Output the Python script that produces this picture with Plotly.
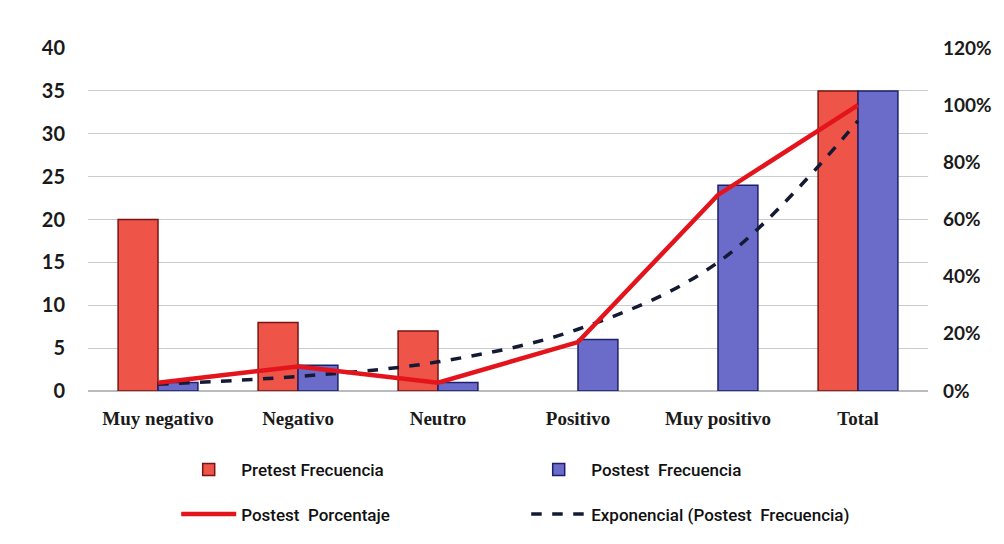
import plotly.graph_objects as go

# Categories and series
categorias = ["Muy negativo", "Negativo", "Neutro", "Positivo", "Muy positivo", "Total"]
pretest_frecuencia = [20, 8, 7, 0, 0, 35]
postest_frecuencia = [1, 3, 1, 6, 24, 35]
postest_porcentaje = [0.029, 0.086, 0.029, 0.171, 0.686, 1.0]
# Exponential trendline of the post-test frequency, at each category
tendencia_exponencial = [0.8, 1.7, 3.4, 7.2, 15.0, 31.5]

left_ticks = [0, 5, 10, 15, 20, 25, 30, 35, 40]
right_ticks = [0, 0.2, 0.4, 0.6, 0.8, 1.0, 1.2]

RED = "#ef5449"
RED_EDGE = "#7a1410"
BLUE = "#6b6cc9"
BLUE_EDGE = "#1c1f6b"
LINE_RED = "#e3141b"
DASH = "#141a33"

LEGEND_FONT = dict(family="Roboto, Noto Sans, sans-serif", size=17, color="#111111", weight=500)


def outline_widths(values, width=1.5):
    # no outline on empty bars, so zero counts leave no sliver
    return [width if v else 0 for v in values]


fig = go.Figure()
fig.add_trace(go.Bar(
    x=categorias, y=pretest_frecuencia, name="Pretest Frecuencia",
    marker=dict(color=RED, line=dict(color=RED_EDGE, width=outline_widths(pretest_frecuencia))),
    legend="legend",
))
fig.add_trace(go.Bar(
    x=categorias, y=postest_frecuencia, name="Postest  Frecuencia",
    marker=dict(color=BLUE, line=dict(color=BLUE_EDGE, width=outline_widths(postest_frecuencia))),
    legend="legend",
))
fig.add_trace(go.Scatter(
    x=categorias, y=postest_porcentaje, name="Postest  Porcentaje",
    mode="lines", line=dict(color=LINE_RED, width=4.5),
    yaxis="y2", legend="legend2",
))
fig.add_trace(go.Scatter(
    x=categorias, y=tendencia_exponencial, name="Exponencial (Postest  Frecuencia)",
    mode="lines", line=dict(color=DASH, width=3.5, dash="dash", shape="spline"),
    legend="legend2",
))

legend_common = dict(
    orientation="h", x=0.105, xanchor="left", yanchor="middle",
    entrywidth=280, entrywidthmode="pixels", itemwidth=55,
    font=LEGEND_FONT, bgcolor="rgba(0,0,0,0)", traceorder="normal",
)

fig.update_layout(
    width=1004, height=544,
    margin=dict(l=88, r=76, t=48, b=153, autoexpand=False),
    paper_bgcolor="white", plot_bgcolor="white",
    barmode="group", bargap=0.43, bargroupgap=0,
    showlegend=True,
    xaxis=dict(
        showgrid=False, showline=False, zeroline=False, ticks="",
        ticklabelstandoff=14, tickangle=0,
        tickfont=dict(family="Liberation Serif, DejaVu Serif, serif", size=19, color="#1a1a1a", weight="bold"),
    ),
    yaxis=dict(
        range=[0, 40], tickvals=left_ticks, showgrid=True,
        gridcolor="#c8ccce", gridwidth=1, zeroline=True, zerolinecolor="#b8bcbe",
        showline=False, ticks="", ticklabelstandoff=22,
        tickfont=dict(family="Lato, Open Sans, sans-serif", size=20, color="#1a1a1a", weight="bold"),
    ),
    yaxis2=dict(
        range=[0, 1.2], tickvals=right_ticks, tickformat=".0%",
        overlaying="y", side="right", showgrid=False, zeroline=False,
        showline=False, ticks="", ticklabelstandoff=14,
        tickfont=dict(family="Lato, Open Sans, sans-serif", size=19, color="#1a1a1a", weight="bold"),
    ),
    legend=dict(y=-0.23, **legend_common),
    legend2=dict(y=-0.36, **legend_common),
)

fig.write_html("out.html")
